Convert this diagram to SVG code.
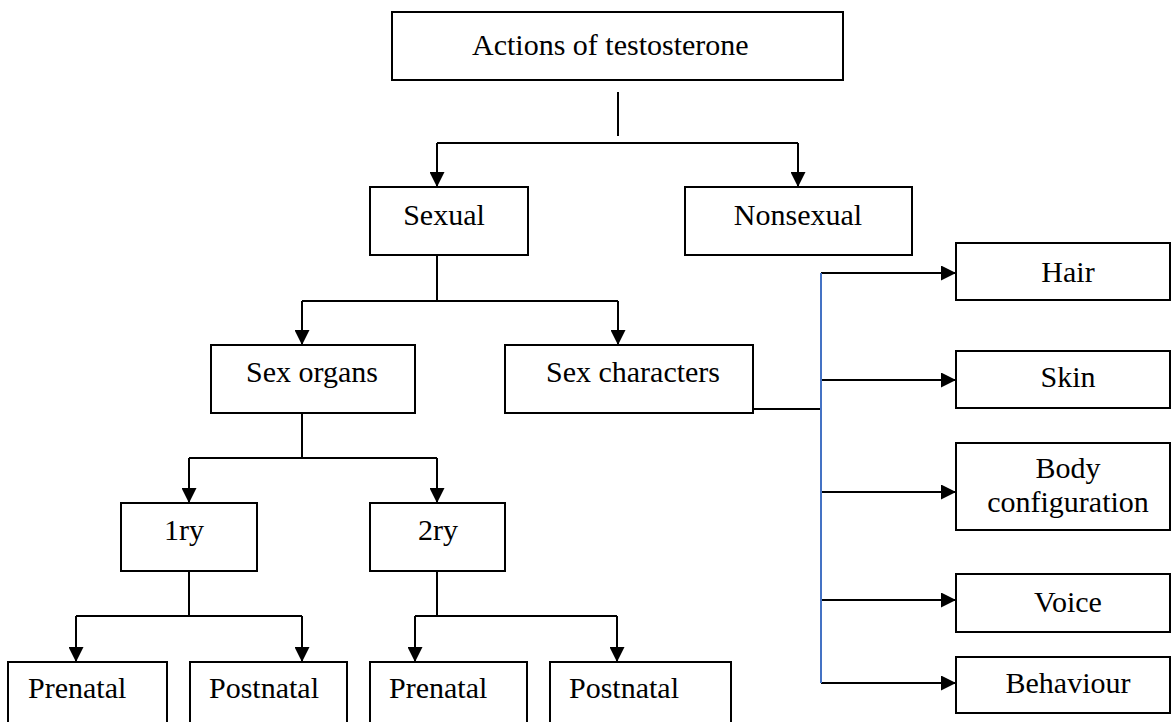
<svg xmlns="http://www.w3.org/2000/svg" width="1172" height="722" viewBox="0 0 1172 722">
  <style>
    .box { fill: #ffffff; stroke: #000000; stroke-width: 2; }
    .lbl { font-family: "Liberation Serif", "Times New Roman", serif; font-size: 30px; fill: #000000; }
    .mid { text-anchor: middle; }
    .wire { fill: none; stroke: #000000; stroke-width: 2; }
    .arrow { fill: none; stroke: #000000; stroke-width: 2; marker-end: url(#head); }
    .trunk { fill: none; stroke: #4472c4; stroke-width: 2; }
  </style>
  <defs>
    <marker id="head" markerUnits="userSpaceOnUse" markerWidth="15" markerHeight="15" refX="15" refY="7.5" orient="auto">
      <path d="M0,0 L15,7.5 L0,15 z" fill="#000000"/>
    </marker>
  </defs>
  <rect width="1172" height="722" fill="#ffffff"/>

  <!-- connectors -->
  <g id="connectors">
    <line class="wire" x1="618" y1="92" x2="618" y2="136"/>
    <path class="wire" d="M437,143 H798"/>
    <path class="arrow" d="M437,143 V187"/>
    <path class="arrow" d="M798,143 V187"/>

    <path class="wire" d="M437,255 V301 M302,301 H618"/>
    <path class="arrow" d="M302,301 V345"/>
    <path class="arrow" d="M618,301 V345"/>

    <path class="wire" d="M302,413 V458 M189,458 H437"/>
    <path class="arrow" d="M189,458 V503"/>
    <path class="arrow" d="M437,458 V503"/>

    <path class="wire" d="M189,571 V616 M76,616 H302"/>
    <path class="arrow" d="M76,616 V662"/>
    <path class="arrow" d="M302,616 V662"/>

    <path class="wire" d="M437,571 V616 M415,616 H617"/>
    <path class="arrow" d="M415,616 V662"/>
    <path class="arrow" d="M617,616 V662"/>

    <path class="wire" d="M753,409 H821"/>
    <path class="arrow" d="M821,273 H956"/>
    <path class="arrow" d="M821,380 H956"/>
    <path class="arrow" d="M821,492 H956"/>
    <path class="arrow" d="M821,600 H956"/>
    <path class="arrow" d="M821,683 H956"/>
    <path class="trunk" d="M821,273 V683"/>
  </g>

  <g id="actions">
    <rect class="box" x="392" y="12" width="451" height="68"/>
    <text class="lbl" x="472" y="55">Actions of testosterone</text>
  </g>
  <g id="sexual">
    <rect class="box" x="370" y="187" width="158" height="68"/>
    <text class="lbl mid" x="444" y="225">Sexual</text>
  </g>
  <g id="nonsexual">
    <rect class="box" x="685" y="187" width="227" height="68"/>
    <text class="lbl mid" x="798" y="225">Nonsexual</text>
  </g>
  <g id="sex-organs">
    <rect class="box" x="211" y="345" width="204" height="68"/>
    <text class="lbl mid" x="312" y="382">Sex organs</text>
  </g>
  <g id="sex-characters">
    <rect class="box" x="505" y="345" width="248" height="68"/>
    <text class="lbl mid" x="633" y="382">Sex characters</text>
  </g>
  <g id="primary">
    <rect class="box" x="121" y="503" width="136" height="68"/>
    <text class="lbl mid" x="184" y="540">1ry</text>
  </g>
  <g id="secondary">
    <rect class="box" x="370" y="503" width="135" height="68"/>
    <text class="lbl mid" x="438" y="540">2ry</text>
  </g>
  <g id="primary-prenatal">
    <rect class="box" x="8" y="662" width="159" height="80"/>
    <text class="lbl" x="28" y="698">Prenatal</text>
  </g>
  <g id="primary-postnatal">
    <rect class="box" x="190" y="662" width="157" height="80"/>
    <text class="lbl" x="209" y="698">Postnatal</text>
  </g>
  <g id="secondary-prenatal">
    <rect class="box" x="370" y="662" width="157" height="80"/>
    <text class="lbl" x="389" y="698">Prenatal</text>
  </g>
  <g id="secondary-postnatal">
    <rect class="box" x="550" y="662" width="181" height="80"/>
    <text class="lbl" x="569" y="698">Postnatal</text>
  </g>
  <g id="hair">
    <rect class="box" x="956" y="243" width="214" height="57"/>
    <text class="lbl mid" x="1068" y="282">Hair</text>
  </g>
  <g id="skin">
    <rect class="box" x="956" y="351" width="214" height="57"/>
    <text class="lbl mid" x="1068" y="387">Skin</text>
  </g>
  <g id="body-configuration">
    <rect class="box" x="956" y="443" width="214" height="87"/>
    <text class="lbl mid" x="1068" y="478">Body</text>
    <text class="lbl mid" x="1068" y="512">configuration</text>
  </g>
  <g id="voice">
    <rect class="box" x="956" y="574" width="214" height="58"/>
    <text class="lbl mid" x="1068" y="612">Voice</text>
  </g>
  <g id="behaviour">
    <rect class="box" x="956" y="657" width="214" height="56"/>
    <text class="lbl mid" x="1068" y="693">Behaviour</text>
  </g>
</svg>
